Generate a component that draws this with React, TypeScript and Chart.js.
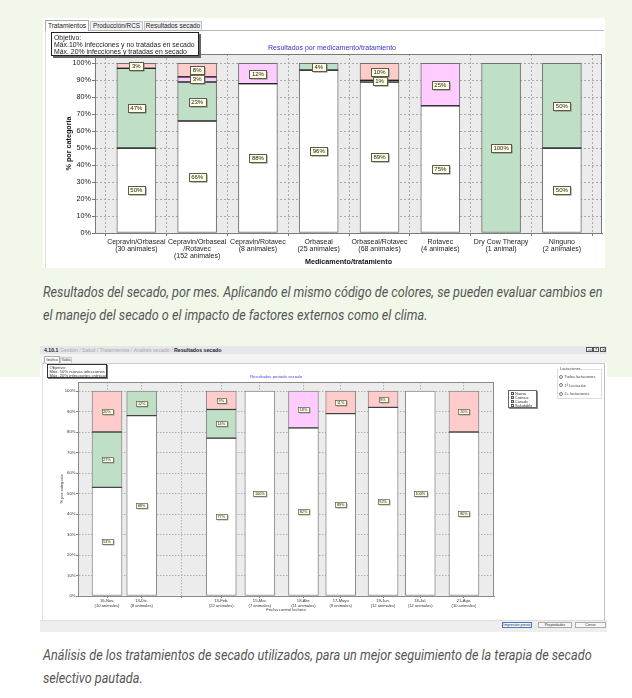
import React, { useEffect, useLayoutEffect, useRef, useState } from "react";
import { Chart, registerables } from "chart.js";

Chart.register(...registerables);

// ---------- shared series ----------
const seriesNames = ["Saludable", "Curada", "Crónica", "Nueva"];
const seriesColors = ["#ffffff", "#bfdfc6", "#ffccff", "#ffcccc"];
const yTickValues = [0, 10, 20, 30, 40, 50, 60, 70, 80, 90, 100];

// ---------- chart 1: por medicamento/tratamiento ----------
const treatmentLabels = [
  ["Cepravin/Orbaseal", "(30 animales)"],
  ["Cepravin/Orbaseal", "/Rotavec", "(152 animales)"],
  ["Cepravin/Rotavec", "(8 animales)"],
  ["Orbaseal", "(25 animales)"],
  ["Orbaseal/Rotavec", "(68 animales)"],
  ["Rotavec", "(4 animales)"],
  ["Dry Cow Therapy", "(1 animal)"],
  ["Ninguno", "(2 animales)"],
];
const treatSaludable = [50, 66, 88, 96, 89, 75, 0, 50];
const treatCurada = [47, 23, 0, 4, 0, 0, 100, 50];
const treatCronica = [0, 3, 12, 0, 1, 25, 0, 0];
const treatNueva = [3, 8, 0, 0, 10, 0, 0, 0];

// ---------- chart 2: por fecha de control ----------
const controlDates = [
  "2018-11-16", "2018-12-13", "2019-02-13", "2019-03-15", "2019-04-18",
  "2019-05-17", "2019-06-19", "2019-07-18", "2019-08-21",
];
const controlLabels = [
  ["16-Nov.", "(10 animales)"],
  ["13-Dic.", "(8 animales)"],
  ["13-Feb.", "(22 animales)"],
  ["15-Mar.", "(7 animales)"],
  ["18-Abr.", "(11 animales)"],
  ["17-Mayo", "(9 animales)"],
  ["19-Jun.", "(12 animales)"],
  ["18-Jul.", "(12 animales)"],
  ["21-Ago.", "(10 animales)"],
];
const ctrlSaludable = [53, 88, 77, 100, 82, 89, 92, 100, 80];
const ctrlCurada = [27, 12, 14, 0, 0, 0, 0, 0, 0];
const ctrlCronica = [0, 0, 0, 0, 18, 0, 0, 0, 0];
const ctrlNueva = [20, 0, 9, 0, 0, 11, 8, 0, 20];
const extraGridDates = ["2019-01-13"];

// ---------- captions ----------
const caption1 = [
  "Resultados del secado, por mes. Aplicando el mismo código de colores, se pueden evaluar cambios en",
  "el manejo del secado o el impacto de factores externos como el clima.",
];
const caption2 = [
  "Análisis de los tratamientos de secado utilizados, para un mejor seguimiento de la terapia de secado",
  "selectivo pautada.",
];

const FONT = '"Liberation Sans", Arial, sans-serif';
const CAPTION_FONT = 'Roboto, "Liberation Sans", sans-serif';

const dayOf = (iso: string) => {
  const [y, m, d] = iso.split("-").map(Number);
  const [y0, m0, d0] = controlDates[0].split("-").map(Number);
  return Math.round((Date.UTC(y, m - 1, d) - Date.UTC(y0, m0 - 1, d0)) / 86400000);
};

// ---------- plugins ----------
const plotFrame = {
  id: "plotFrame",
  beforeDraw(chart: any, _a: any, opts: any) {
    const { ctx, chartArea: a } = chart;
    ctx.save();
    ctx.fillStyle = opts.bg;
    ctx.fillRect(a.left, a.top, a.right - a.left, a.bottom - a.top);
    ctx.restore();
  },
  afterDraw(chart: any, _a: any, opts: any) {
    const { ctx, chartArea: a } = chart;
    ctx.save();
    ctx.strokeStyle = opts.border;
    ctx.lineWidth = 1;
    const l = Math.floor(a.left) + 0.5, t = Math.floor(a.top) + 0.5;
    const r = Math.floor(a.right) - 0.5, b = Math.floor(a.bottom) + 0.5;
    ctx.strokeRect(l, t, r - l, b - t);
    ctx.restore();
  },
};

const segmentLabels = {
  id: "segmentLabels",
  afterDatasetsDraw(chart: any, _a: any, opts: any) {
    const { ctx } = chart;
    const ds = chart.data.datasets;
    const metas = ds.map((_: any, i: number) => chart.getDatasetMeta(i));
    const count = ds[0].data.length;
    ctx.save();
    for (let j = 0; j < count; j++) {
      for (let i = 0; i < ds.length - 1; i++) {
        const v = ds[i].data[j].y;
        if (!v) continue;
        let above = false;
        for (let k = i + 1; k < ds.length; k++) if (ds[k].data[j].y) above = true;
        if (!above) continue;
        const el = metas[i].data[j];
        const half = el.width / 2;
        ctx.strokeStyle = opts.sepColor;
        ctx.lineWidth = opts.sepWidth;
        ctx.beginPath();
        ctx.moveTo(el.x - half, el.y);
        ctx.lineTo(el.x + half, el.y);
        ctx.stroke();
      }
    }
    ctx.font = `${opts.fontSize}px ${FONT}`;
    ctx.textAlign = "center";
    ctx.textBaseline = "middle";
    for (let i = 0; i < ds.length; i++) {
      for (let j = 0; j < count; j++) {
        const v = ds[i].data[j].y;
        if (!v) continue;
        const el = metas[i].data[j];
        const text = v + "%";
        const w = Math.round(ctx.measureText(text).width + opts.padX * 2);
        const h = opts.boxH;
        const cy = (el.y + el.base) / 2;
        const x0 = Math.round(el.x - w / 2) + 0.5;
        const y0 = Math.round(cy - h / 2) + 0.5;
        ctx.fillStyle = "#7d7d70";
        ctx.fillRect(x0 + opts.shadow, y0 + opts.shadow, w, h);
        ctx.fillStyle = "#ffffe4";
        ctx.fillRect(x0, y0, w, h);
        ctx.strokeStyle = "#5a5a50";
        ctx.lineWidth = opts.lineW;
        ctx.strokeRect(x0, y0, w, h);
        ctx.fillStyle = "#222";
        ctx.fillText(text, el.x, y0 + h / 2 + 0.3);
      }
    }
    ctx.restore();
  },
};

const isHalf = (v: number) => Math.abs(v - Math.round(v)) > 0.25;

function TreatmentChart() {
  const ref = useRef<HTMLCanvasElement>(null);
  useEffect(() => {
    const series = [treatSaludable, treatCurada, treatCronica, treatNueva];
    const n = treatmentLabels.length;
    const chart = new Chart(ref.current as HTMLCanvasElement, {
      type: "bar",
      data: {
        datasets: series.map((vals, i) => ({
          label: seriesNames[i],
          data: vals.map((v, j) => ({ x: j, y: v === 0 ? null : v })),
          backgroundColor: seriesColors[i],
          borderColor: "#707070",
          borderWidth: 1,
          borderSkipped: false,
          barThickness: 39,
        })),
      },
      options: {
        animation: false,
        responsive: false,
        maintainAspectRatio: false,
        events: [],
        layout: { padding: { top: 10, right: 3, left: 0, bottom: 0 } },
        plugins: {
          legend: { display: false },
          tooltip: { enabled: false },
          plotFrame: { bg: "#ebebeb", border: "#7a7a7a" },
          segmentLabels: { fontSize: 6, boxH: 8, padX: 2.5, sepColor: "#222", sepWidth: 1.2, shadow: 1, lineW: 1 },
        },
        scales: {
          x: {
            type: "linear",
            stacked: true,
            offset: false,
            min: -0.68,
            max: 7.66,
            afterBuildTicks: (ax: any) => {
              const t: any[] = [];
              for (let k = 0; k <= n; k++) {
                t.push({ value: k - 0.5 });
                if (k < n) t.push({ value: k });
              }
              ax.ticks = t;
            },
            afterFit: (ax: any) => { ax.height = 35; },
            ticks: {
              autoSkip: false,
              maxRotation: 0,
              minRotation: 0,
              padding: 2,
              color: "#222",
              font: { family: FONT, size: 7, lineHeight: 1.05 },
              callback: (v: any) => (isHalf(v) ? "" : treatmentLabels[Math.round(v)]),
            },
            grid: {
              offset: false,
              color: (c: any) => (c.tick && isHalf(c.tick.value) ? "#a9a9a9" : "rgba(0,0,0,0)"),
              tickColor: (c: any) => (c.tick && isHalf(c.tick.value) ? "#777" : "rgba(0,0,0,0)"),
              tickLength: 3,
            },
            border: { display: true, color: "#777", dash: [2, 2] },
            title: {
              display: true,
              text: "Medicamento/tratamiento",
              color: "#111",
              font: { family: FONT, size: 7.2, weight: "bold" },
              padding: { top: 0, bottom: 2 },
            },
          },
          y: {
            stacked: true,
            min: 0,
            max: 105.5,
            afterBuildTicks: (ax: any) => { ax.ticks = yTickValues.map((v) => ({ value: v })); },
            afterFit: (ax: any) => { ax.width = 51; },
            ticks: {
              padding: 1,
              color: "#222",
              font: { family: FONT, size: 7.2 },
              callback: (v: any) => v + "%",
            },
            grid: { color: "#a9a9a9", tickColor: "#777", tickLength: 3 },
            border: { display: true, color: "#777", dash: [2, 2] },
            title: {
              display: true,
              text: "% por categoría",
              color: "#111",
              font: { family: FONT, size: 7.2, weight: "bold" },
              padding: { top: 21, bottom: 0 },
            },
          },
        },
      },
      plugins: [plotFrame, segmentLabels],
    } as any);
    return () => chart.destroy();
  }, []);
  return (
    <canvas
      ref={ref}
      width={561}
      height={224}
      style={{ position: "absolute", left: 44, top: 44, width: 561, height: 224 }}
    />
  );
}

function ControlChart() {
  const ref = useRef<HTMLCanvasElement>(null);
  useEffect(() => {
    const series = [ctrlSaludable, ctrlCurada, ctrlCronica, ctrlNueva];
    const days = controlDates.map(dayOf);
    const gridDays = [...days, ...extraGridDates.map(dayOf)].sort((a, b) => a - b);
    const chart = new Chart(ref.current as HTMLCanvasElement, {
      type: "bar",
      data: {
        datasets: series.map((vals, i) => ({
          label: seriesNames[i],
          data: vals.map((v, j) => ({ x: days[j], y: v === 0 ? null : v })),
          backgroundColor: seriesColors[i],
          borderColor: "#8a8a8a",
          borderWidth: 1,
          borderSkipped: false,
          barThickness: 30,
        })),
      },
      options: {
        animation: false,
        responsive: false,
        maintainAspectRatio: false,
        events: [],
        layout: { padding: { top: 10, right: 8, left: 0, bottom: 0 } },
        plugins: {
          legend: { display: false },
          tooltip: { enabled: false },
          plotFrame: { bg: "#ececec", border: "#8a8a8a" },
          segmentLabels: { fontSize: 3.8, boxH: 5, padX: 1.6, sepColor: "#3a3a3a", sepWidth: 1, shadow: 0.8, lineW: 0.7 },
        },
        scales: {
          x: {
            type: "linear",
            stacked: true,
            offset: false,
            min: days[0] - 22.6,
            max: days[days.length - 1] + 23.4,
            afterBuildTicks: (ax: any) => { ax.ticks = gridDays.map((d) => ({ value: d })); },
            afterFit: (ax: any) => { ax.height = 20; },
            ticks: {
              autoSkip: false,
              maxRotation: 0,
              minRotation: 0,
              padding: 0.5,
              color: "#333",
              font: { family: FONT, size: 4.1, lineHeight: 1.2 },
              callback: (v: any) => {
                const idx = days.indexOf(Math.round(v));
                return idx >= 0 ? controlLabels[idx] : "";
              },
            },
            grid: { offset: false, color: "#b0b0b0", tickColor: "#888", tickLength: 2 },
            border: { display: true, color: "#888", dash: [1.5, 1.5] },
            title: {
              display: true,
              text: "Fecha control lechero",
              color: "#333",
              font: { family: FONT, size: 4.1 },
              padding: { top: 0, bottom: 4 },
            },
          },
          y: {
            stacked: true,
            min: 0,
            max: 104.4,
            afterBuildTicks: (ax: any) => { ax.ticks = yTickValues.map((v) => ({ value: v })); },
            afterFit: (ax: any) => { ax.width = 36; },
            ticks: {
              padding: 0.5,
              color: "#333",
              font: { family: FONT, size: 4.2 },
              callback: (v: any) => v + "%",
            },
            grid: { color: "#b0b0b0", tickColor: "#888", tickLength: 2 },
            border: { display: true, color: "#888", dash: [1.5, 1.5] },
            title: {
              display: true,
              text: "% por categoría",
              color: "#333",
              font: { family: FONT, size: 4.1 },
              padding: { top: 17, bottom: 0 },
            },
          },
        },
      },
      plugins: [plotFrame, segmentLabels],
    } as any);
    return () => chart.destroy();
  }, []);
  return (
    <canvas
      ref={ref}
      width={460}
      height={244}
      style={{ position: "absolute", left: 42, top: 372, width: 460, height: 244 }}
    />
  );
}

const abs = (left: number, top: number, width: number, height: number, extra: any = {}) => ({
  position: "absolute" as const,
  left,
  top,
  width,
  height,
  boxSizing: "border-box" as const,
  ...extra,
});

// Caption: italic text, horizontally scaled so its first line spans `firstWidth`.
function Caption({ left, top, lines, firstWidth }: { left: number; top: number; lines: string[]; firstWidth: number }) {
  const ref = useRef<HTMLSpanElement>(null);
  const [k, setK] = useState(0.84);
  useLayoutEffect(() => {
    const measure = () => {
      const el = ref.current;
      if (el && el.offsetWidth > 0) setK(firstWidth / el.offsetWidth);
    };
    measure();
    const f: any = (document as any).fonts;
    if (f && f.ready) f.ready.then(measure);
  }, [firstWidth]);
  return (
    <div
      style={{
        position: "absolute",
        left,
        top,
        whiteSpace: "nowrap",
        fontFamily: CAPTION_FONT,
        fontStyle: "italic",
        fontSize: 15,
        lineHeight: "23px",
        color: "#555",
        transform: `scaleX(${k})`,
        transformOrigin: "left top",
      }}
    >
      {lines.map((l, i) => (
        <div key={i}>
          <span ref={i === 0 ? ref : undefined} style={{ display: "inline-block" }}>{l}</span>
        </div>
      ))}
    </div>
  );
}

function Radio({ left, top, on, label }: { left: number; top: number; on?: boolean; label: string }) {
  return (
    <div style={abs(left, top, 50, 5, { fontSize: 3.9, lineHeight: "5px", color: "#444", whiteSpace: "nowrap" })}>
      <span
        style={{
          display: "inline-block",
          width: 4,
          height: 4,
          borderRadius: 3,
          border: "0.6px solid #777",
          background: on ? "radial-gradient(circle, #333 0 35%, #fff 45%)" : "#fff",
          verticalAlign: "middle",
          marginRight: 1.5,
          boxSizing: "border-box",
        }}
      />
      {label}
    </div>
  );
}

export default function App() {
  const legendItems = seriesNames.map((n, i) => ({ n, c: seriesColors[i] })).reverse();
  return (
    <div
      style={{
        position: "absolute",
        left: 0,
        top: 0,
        width: 632,
        height: 698,
        background: "#ffffff",
        overflow: "hidden",
        fontFamily: FONT,
      }}
    >
      {/* pale green band */}
      <div style={abs(0, 0, 632, 377, { background: "#f1f8ea" })} />

      {/* ---------- top screenshot ---------- */}
      <div style={abs(43, 18, 562, 250, { background: "#fff" })} />
      <div style={abs(45, 30, 559, 238, { borderTop: "1px solid #b9b9b9", borderLeft: "1px solid #dedede" })} />
      <div style={abs(45, 20, 44, 11, { background: "#fff", border: "1px solid #a8a8a8", borderBottom: "none", fontSize: 6.6, lineHeight: "9px", textAlign: "center", color: "#222" })}>Tratamientos</div>
      <div style={abs(90, 21, 53, 9, { background: "#f2f2f2", border: "1px solid #c4c4c4", borderBottom: "none", fontSize: 6.4, lineHeight: "8px", textAlign: "center", color: "#222" })}>Producción/RCS</div>
      <div style={abs(144, 21, 58, 9, { background: "#f2f2f2", border: "1px solid #c4c4c4", borderBottom: "none", fontSize: 6.4, lineHeight: "8px", textAlign: "center", color: "#222" })}>Resultados secado</div>

      <TreatmentChart />

      <div style={abs(51, 32, 148, 24, { background: "#fff", border: "1px solid #222", boxShadow: "2px 2px 0 #666", fontSize: 6.9, lineHeight: "7px", padding: "1px 2px 0 2px", color: "#222", whiteSpace: "nowrap", zIndex: 2 })}>
        Objetivo:<br />Máx.10% infecciones y no tratadas en secado<br />Máx. 20% infecciones y tratadas en secado
      </div>
      <div style={abs(232, 43, 200, 9, { fontSize: 7, lineHeight: "9px", textAlign: "center", color: "#3535c8", whiteSpace: "nowrap" })}>
        Resultados por medicamento/tratamiento
      </div>

      <Caption left={43} top={281} lines={caption1} firstWidth={560} />

      {/* ---------- bottom screenshot ---------- */}
      <div style={abs(40, 346, 567, 286, { background: "#fff" })} />
      <div style={abs(40, 346, 567, 8, { background: "#e4e6ea", fontSize: 5.2, lineHeight: "8px", paddingLeft: 4, whiteSpace: "nowrap", color: "#222" })}>
        <b>4.10.1</b> <span style={{ color: "#a8a8a8" }}>Gestión / Salud / Tratamientos / Análisis secado /</span> <b>Resultados secado</b>
      </div>
      <div style={abs(586, 347, 7, 5, { border: "0.7px solid #555", background: "#f4f4f4", fontSize: 3.5, lineHeight: "4px", textAlign: "center" })}>▭</div>
      <div style={abs(593, 347, 6, 5, { border: "0.7px solid #555", background: "#f4f4f4", fontSize: 3.8, lineHeight: "4px", textAlign: "center" })}>?</div>
      <div style={abs(600, 347, 6, 5, { border: "0.7px solid #555", background: "#f4f4f4", fontSize: 3.8, lineHeight: "4px", textAlign: "center" })}>✕</div>
      <div style={abs(40, 354, 567, 9, { background: "#f3f3f3" })} />
      <div style={abs(44, 356, 16, 7, { background: "#fff", border: "0.7px solid #aaa", borderBottom: "none", fontSize: 3.8, lineHeight: "6px", textAlign: "center", color: "#333" })}>Gráfico</div>
      <div style={abs(60, 357, 12, 6, { background: "#f6f6f6", border: "0.7px solid #ccc", borderBottom: "none", fontSize: 3.8, lineHeight: "5px", textAlign: "center", color: "#333" })}>Tabla</div>
      <div style={abs(42, 363, 563, 257, { borderTop: "0.7px solid #ccc", borderRight: "1px solid #bdbdbd", borderLeft: "0.7px solid #e0e0e0" })} />

      <ControlChart />

      <div style={abs(47, 364, 60, 14, { background: "#fff", border: "0.8px solid #333", boxShadow: "1px 1px 0 #777", fontSize: 4.2, lineHeight: "4.3px", padding: "0.5px 1.5px", color: "#333", whiteSpace: "nowrap" })}>
        Objetivo:<br />Máx. 10% nuevas infecciones<br />Máx. 20% infecciones crónicas
      </div>
      <div style={abs(226, 374, 100, 6, { fontSize: 4.3, lineHeight: "6px", textAlign: "center", color: "#4646e6", whiteSpace: "nowrap" })}>
        Resultados periodo secado
      </div>

      {/* legend */}
      <div style={abs(508, 390, 29, 18, { background: "#fff", border: "0.8px solid #666", boxShadow: "1px 1px 0 #888", padding: "1px 1.5px", fontSize: 3.9, lineHeight: "4px", color: "#333", whiteSpace: "nowrap" })}>
        {legendItems.map((it) => (
          <div key={it.n} style={{ height: 4 }}>
            <span style={{ display: "inline-block", width: 3, height: 3, background: it.c, border: "0.6px solid #555", boxSizing: "border-box", marginRight: 1.5, verticalAlign: "middle" }} />
            {it.n}
          </div>
        ))}
      </div>

      {/* lactaciones */}
      <div style={abs(557, 369, 45, 30, { border: "0.7px solid #ddd" })} />
      <div style={abs(559, 366, 22, 5, { fontSize: 3.9, lineHeight: "5px", color: "#444", background: "#fff", paddingLeft: 1, whiteSpace: "nowrap" })}>Lactaciones</div>
      <Radio left={559} top={374} on label="Todas lactaciones" />
      <Radio left={559} top={382.5} label="1ª Lactación" />
      <Radio left={559} top={391} label="2+ lactaciones" />

      {/* bottom bar */}
      <div style={abs(40, 620, 567, 12, { background: "#eeeeee", borderTop: "0.7px solid #ddd" })} />
      <div style={abs(502, 622, 30, 6, { border: "0.8px solid #4a78c8", background: "#f7f7f7", fontSize: 3.7, lineHeight: "5px", textAlign: "center", color: "#333", whiteSpace: "nowrap" })}>Impresión previa</div>
      <div style={abs(538, 622, 34, 6, { border: "0.7px solid #aaa", background: "#f7f7f7", fontSize: 3.7, lineHeight: "5px", textAlign: "center", color: "#333" })}>Propiedades</div>
      <div style={abs(575, 622, 31, 6, { border: "0.7px solid #aaa", background: "#f7f7f7", fontSize: 3.7, lineHeight: "5px", textAlign: "center", color: "#333" })}>Cerrar</div>

      <Caption left={43} top={644} lines={caption2} firstWidth={549} />
    </div>
  );
}
